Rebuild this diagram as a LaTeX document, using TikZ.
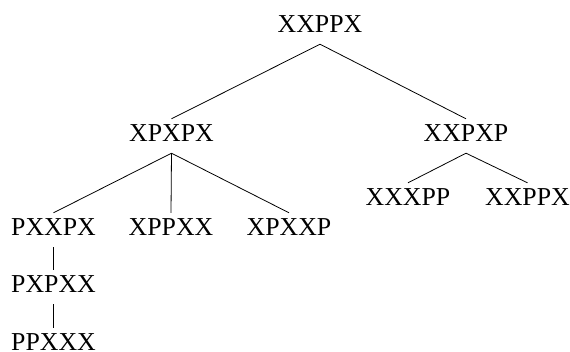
\documentclass[tikz,border=0pt]{standalone}
\usepackage{fontspec}
\setmainfont{Liberation Serif}
\begin{document}
\begin{tikzpicture}[x=1pt,y=-1pt,
  lbl/.style={font=\fontsize{25.8}{30}\selectfont, anchor=base, inner xsep=0pt, inner ysep=5pt, text height=17pt, text depth=7pt},
  edge/.style={line width=0.8pt}]
\useasboundingbox (0,0) rectangle (570,351);
\node[lbl] (r) at (320,32) {XXPPX};
\node[lbl] (a) at (171.5,141) {XPXPX};
\node[lbl] (b) at (466,141) {XXPXP};
\node[lbl] (a1) at (53.5,235) {PXXPX};
\node[lbl] (a2) at (171,235) {XPPXX};
\node[lbl] (a3) at (289,235) {XPXXP};
\node[lbl] (b1) at (408,205) {XXXPP};
\node[lbl] (b2) at (527.5,205) {XXPPX};
\node[lbl] (c1) at (53.5,292) {PXPXX};
\node[lbl] (c2) at (53.5,350) {PPXXX};
\draw[edge] (r.south) -- (a.north);
\draw[edge] (r.south) -- (b.north);
\draw[edge] (a.south) -- (a1.north);
\draw[edge] (a.south) -- (a2.north);
\draw[edge] (a.south) -- (a3.north);
\draw[edge] (b.south) -- (b1.north);
\draw[edge] (b.south) -- (b2.north);
\draw[edge] (a1.south) -- (c1.north);
\draw[edge] (c1.south) -- (c2.north);
\end{tikzpicture}
\end{document}
